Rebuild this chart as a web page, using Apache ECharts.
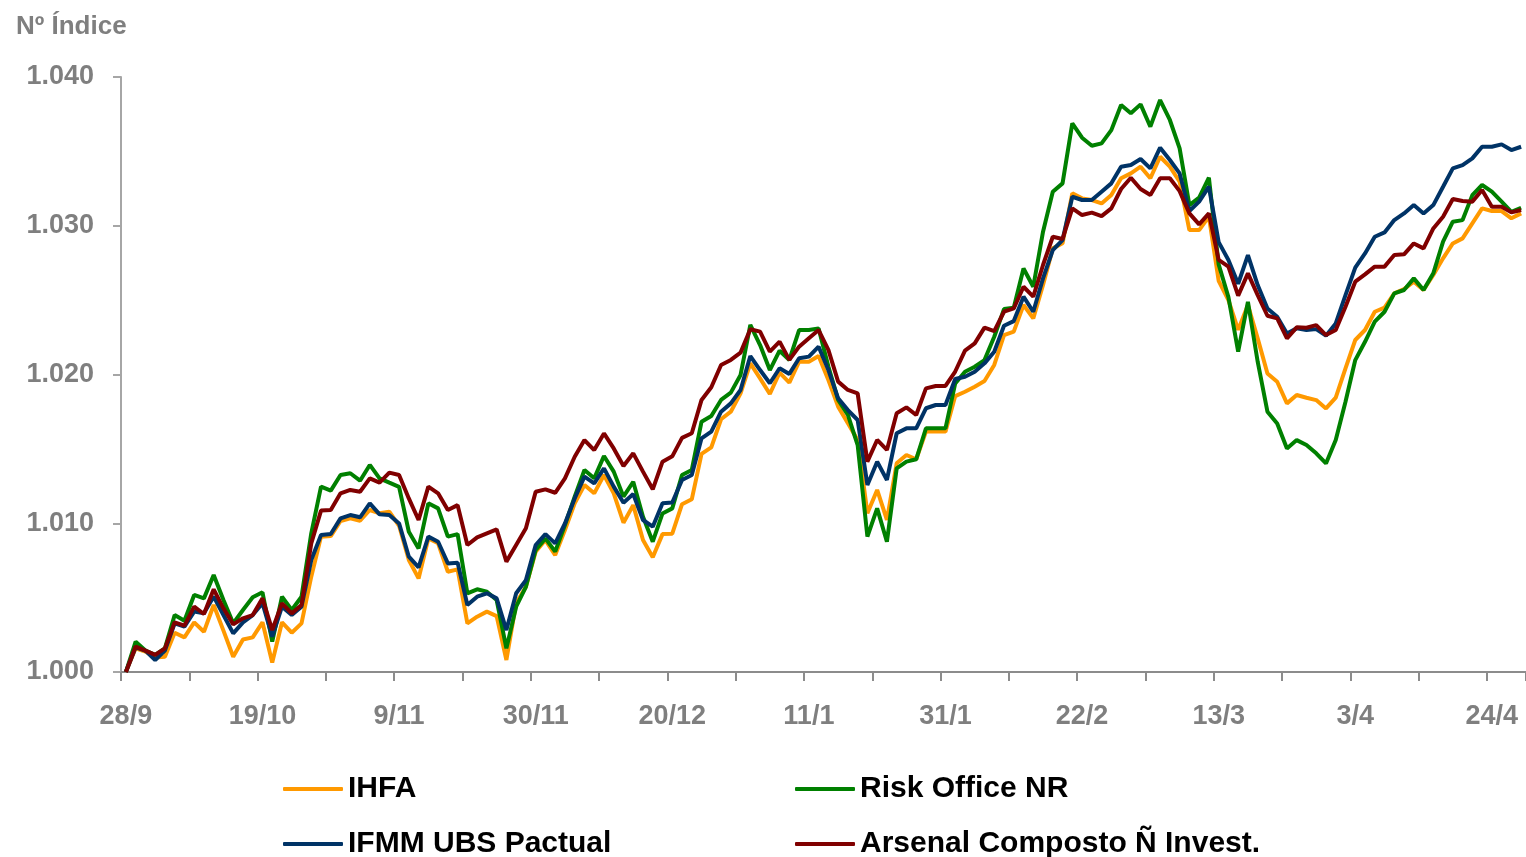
<!DOCTYPE html>
<html>
<head>
<meta charset="utf-8">
<script src="https://cdn.jsdelivr.net/npm/echarts@6/dist/echarts.min.js"></script>
<style>
  html, body { margin: 0; padding: 0; background: #fff; }
  #chart { width: 1526px; height: 857px; }
</style>
</head>
<body>
<div id="chart"></div>
<script>
// datas (dia/mes)
let categories = [
  '28/9','29/9','30/9','1/10','2/10','5/10','6/10','7/10','8/10','9/10','13/10','14/10','15/10','16/10',
  '19/10','20/10','21/10','22/10','23/10','26/10','27/10','28/10','29/10','30/10','3/11','4/11','5/11','6/11',
  '9/11','10/11','11/11','12/11','13/11','16/11','17/11','18/11','19/11','23/11','24/11','25/11','26/11','27/11',
  '30/11','1/12','2/12','3/12','4/12','7/12','8/12','9/12','10/12','11/12','14/12','15/12','16/12','17/12',
  '20/12','21/12','22/12','23/12','24/12','28/12','29/12','30/12','31/12','4/1','5/1','6/1','7/1','8/1',
  '11/1','12/1','13/1','14/1','15/1','18/1','19/1','20/1','21/1','22/1','25/1','26/1','27/1','28/1',
  '31/1','1/2','2/2','3/2','4/2','5/2','8/2','9/2','10/2','11/2','12/2','17/2','18/2','19/2',
  '22/2','23/2','24/2','25/2','26/2','1/3','2/3','3/3','4/3','5/3','8/3','9/3','10/3','11/3',
  '13/3','15/3','16/3','17/3','18/3','19/3','22/3','23/3','24/3','25/3','26/3','29/3','30/3','31/3',
  '3/4','5/4','6/4','7/4','8/4','9/4','12/4','13/4','14/4','15/4','16/4','19/4','20/4','22/4',
  '24/4','26/4','27/4','28/4'
];

// IHFA
let ihfa = [
  1000.00,1001.59,1001.37,1000.98,1001.03,1002.64,1002.33,1003.34,1002.71,1004.50,1002.78,1001.03,1002.19,1002.33,
  1003.34,1000.63,1003.34,1002.64,1003.27,1006.41,1009.10,1009.14,1010.15,1010.33,1010.17,1010.89,1010.67,1010.78,
  1009.83,1007.53,1006.29,1008.98,1008.65,1006.74,1006.90,1003.27,1003.72,1004.06,1003.76,1000.81,1004.62,1005.73,
  1008.09,1008.87,1007.86,1009.54,1011.34,1012.57,1012.01,1013.24,1012.01,1010.04,1011.22,1008.87,1007.71,1009.27,
  1009.30,1011.28,1011.61,1014.66,1015.10,1016.99,1017.50,1018.73,1020.75,1019.74,1018.69,1020.12,1019.45,1020.86,
  1020.86,1021.24,1019.63,1017.84,1016.72,1015.60,1010.67,1012.24,1010.22,1014.03,1014.59,1014.30,1016.16,1016.16,
  1016.16,1018.55,1018.84,1019.18,1019.56,1020.64,1022.65,1022.88,1024.67,1023.77,1026.02,1028.48,1028.82,1032.18,
  1031.84,1031.73,1031.50,1032.07,1033.19,1033.52,1033.97,1033.19,1034.64,1033.97,1032.96,1029.71,1029.71,1030.61,
  1026.30,1025.00,1023.00,1024.67,1022.43,1020.07,1019.51,1018.06,1018.62,1018.44,1018.28,1017.72,1018.44,1020.41,
  1022.32,1022.99,1024.22,1024.49,1025.45,1025.74,1026.24,1025.68,1026.69,1027.81,1028.81,1029.15,1030.16,1031.17,
  1030.99,1030.99,1030.50,1030.83
];

// Risk Office NR
let riskOffice = [
  1000.00,1002.04,1001.44,1001.15,1001.59,1003.83,1003.45,1005.18,1004.95,1006.52,1004.84,1003.27,1004.17,1005.02,
  1005.36,1002.04,1005.06,1004.17,1005.06,1009.32,1012.46,1012.19,1013.24,1013.36,1012.86,1013.92,1013.02,1012.73,
  1012.45,1009.43,1008.31,1011.34,1011.00,1009.10,1009.27,1005.29,1005.56,1005.40,1004.84,1001.59,1004.39,1005.73,
  1008.20,1008.98,1008.09,1009.88,1011.79,1013.58,1013.02,1014.52,1013.47,1011.79,1012.79,1010.44,1008.76,1010.66,
  1011.00,1013.24,1013.58,1016.83,1017.21,1018.29,1018.78,1019.97,1023.33,1021.98,1020.30,1021.60,1020.98,1022.99,
  1022.99,1023.10,1020.53,1018.29,1017.28,1015.26,1009.10,1011.00,1008.76,1013.69,1014.14,1014.30,1016.38,1016.38,
  1016.38,1019.40,1020.19,1020.52,1020.97,1022.54,1024.40,1024.49,1027.13,1025.90,1029.60,1032.29,1032.85,1036.88,
  1035.92,1035.38,1035.54,1036.43,1038.12,1037.56,1038.16,1036.66,1038.45,1037.11,1035.20,1031.39,1031.89,1033.23,
  1027.40,1025.20,1021.53,1024.89,1020.86,1017.50,1016.71,1015.03,1015.59,1015.26,1014.70,1014.02,1015.59,1018.17,
  1020.97,1022.20,1023.55,1024.22,1025.45,1025.68,1026.46,1025.68,1026.80,1028.93,1030.27,1030.38,1032.06,1032.74,
  1032.29,1031.62,1030.94,1031.21
];

// IFMM UBS Pactual
let ifmm = [
  1000.00,1001.66,1001.44,1000.81,1001.44,1003.27,1003.05,1004.06,1003.95,1005.07,1003.83,1002.60,1003.34,1003.83,
  1004.62,1002.38,1004.39,1003.83,1004.39,1007.53,1009.21,1009.28,1010.33,1010.55,1010.40,1011.34,1010.60,1010.55,
  1009.99,1007.75,1007.03,1009.10,1008.76,1007.30,1007.35,1004.50,1005.06,1005.29,1004.95,1002.82,1005.29,1006.18,
  1008.54,1009.27,1008.65,1009.99,1011.67,1013.13,1012.68,1013.69,1012.46,1011.38,1011.96,1010.22,1009.77,1011.34,
  1011.40,1012.91,1013.24,1015.71,1016.16,1017.50,1018.06,1018.96,1021.24,1020.30,1019.41,1020.42,1020.04,1021.09,
  1021.20,1021.87,1020.30,1018.40,1017.61,1016.94,1012.57,1014.14,1012.91,1016.05,1016.38,1016.38,1017.73,1017.95,
  1017.95,1019.70,1019.85,1020.19,1020.75,1021.53,1023.28,1023.59,1025.23,1024.22,1026.46,1028.37,1029.04,1031.95,
  1031.73,1031.73,1032.29,1032.85,1033.97,1034.08,1034.49,1033.86,1035.25,1034.42,1033.52,1030.99,1031.62,1032.63,
  1028.90,1027.70,1026.10,1028.03,1026.01,1024.44,1023.88,1022.76,1023.10,1022.99,1023.05,1022.61,1023.43,1025.34,
  1027.18,1028.14,1029.26,1029.55,1030.38,1030.83,1031.39,1030.83,1031.39,1032.62,1033.86,1034.08,1034.53,1035.31,
  1035.31,1035.47,1035.09,1035.31
];

// Arsenal Composto Ñ Invest.
let arsenal = [
  1000.00,1001.71,1001.44,1001.15,1001.59,1003.34,1003.12,1004.39,1003.90,1005.56,1004.28,1003.20,1003.61,1003.83,
  1004.95,1002.82,1004.62,1003.94,1004.50,1008.65,1010.85,1010.89,1012.01,1012.24,1012.12,1013.02,1012.73,1013.40,
  1013.24,1011.67,1010.22,1012.46,1012.01,1010.89,1011.22,1008.54,1009.05,1009.32,1009.59,1007.42,1008.54,1009.66,
  1012.12,1012.28,1012.05,1013.02,1014.47,1015.59,1014.92,1016.04,1015.03,1013.85,1014.70,1013.47,1012.28,1014.14,
  1014.50,1015.74,1016.05,1018.29,1019.14,1020.64,1020.98,1021.47,1023.04,1022.88,1021.54,1022.21,1020.98,1021.87,
  1022.43,1022.99,1021.65,1019.52,1018.96,1018.73,1014.14,1015.60,1014.93,1017.39,1017.79,1017.28,1019.07,1019.23,
  1019.23,1020.20,1021.60,1022.09,1023.15,1022.92,1024.22,1024.45,1025.90,1025.23,1027.36,1029.26,1029.11,1031.17,
  1030.72,1030.88,1030.65,1031.17,1032.47,1033.23,1032.47,1032.07,1033.19,1033.19,1032.33,1030.83,1030.09,1030.83,
  1027.70,1027.25,1025.30,1026.80,1025.34,1023.95,1023.77,1022.43,1023.17,1023.14,1023.32,1022.65,1022.99,1024.56,
  1026.24,1026.73,1027.25,1027.25,1028.03,1028.08,1028.81,1028.48,1029.82,1030.61,1031.80,1031.66,1031.62,1032.40,
  1031.28,1031.28,1030.90,1031.06
];

let seriesNames = ['IHFA', 'Risk Office NR', 'IFMM UBS Pactual', 'Arsenal Composto Ñ Invest.'];
let seriesColors = ['#FF9900', '#008000', '#003366', '#800000'];
let seriesData = [ihfa, riskOffice, ifmm, arsenal];

let fontFamily = '"Liberation Sans", Arial, sans-serif';
let grayText = '#7f7f7f';

let myChart = echarts.init(document.getElementById('chart'));

let series = [];
seriesData.forEach(function(item, index){
    series.push({
        name: seriesNames[index],
        type: 'line',
        data: item,
        symbol: 'none',
        lineStyle: {
            color: seriesColors[index],
            width: 4
        },
        itemStyle: {
            color: seriesColors[index]
        }
    });
});

// legenda 2x2: uma legenda por item
let legendPos = [[278, 769], [790, 769], [278, 824], [790, 824]];
let legends = [];
seriesNames.forEach(function(name, index){
    legends.push({
        left: legendPos[index][0],
        top: legendPos[index][1],
        data: [name],
        icon: 'roundRect',
        itemWidth: 60,
        itemHeight: 4,
        textStyle: {
            fontFamily: fontFamily,
            fontWeight: 'bold',
            fontSize: 30,
            lineHeight: 30,
            color: '#000'
        }
    });
});

let option = {
    animation: false,
    backgroundColor: '#fff',
    title: {
        text: 'Nº Índice',
        left: 11,
        top: 9,
        textStyle: {
            fontFamily: fontFamily,
            fontWeight: 'bold',
            fontSize: 26,
            color: grayText
        }
    },
    legend: legends,
    grid: {
        left: 121,
        top: 77,
        height: 595,
        width: 144 * 9.81
    },
    xAxis: {
        type: 'category',
        data: categories,
        boundaryGap: true,
        axisLine: {
            lineStyle: { color: '#8c8c8c', width: 2 }
        },
        axisTick: {
            show: true,
            interval: 6,
            length: 9,
            lineStyle: { color: '#8c8c8c', width: 2 }
        },
        axisLabel: {
            interval: 13,
            margin: 31,
            fontFamily: fontFamily,
            fontWeight: 'bold',
            fontSize: 27,
            color: grayText
        },
        splitLine: { show: false }
    },
    yAxis: {
        type: 'value',
        min: 1000,
        max: 1040,
        interval: 10,
        axisLine: {
            show: true,
            lineStyle: { color: '#a6a6a6', width: 2 }
        },
        axisTick: {
            show: true,
            length: 8,
            lineStyle: { color: '#a6a6a6', width: 2 }
        },
        axisLabel: {
            margin: 27,
            fontFamily: fontFamily,
            fontWeight: 'bold',
            fontSize: 27,
            color: grayText,
            formatter: function (value) {
                return (value / 1000).toFixed(3);
            }
        },
        splitLine: { show: false }
    },
    series: series
};
myChart.setOption(option);
</script>
</body>
</html>
